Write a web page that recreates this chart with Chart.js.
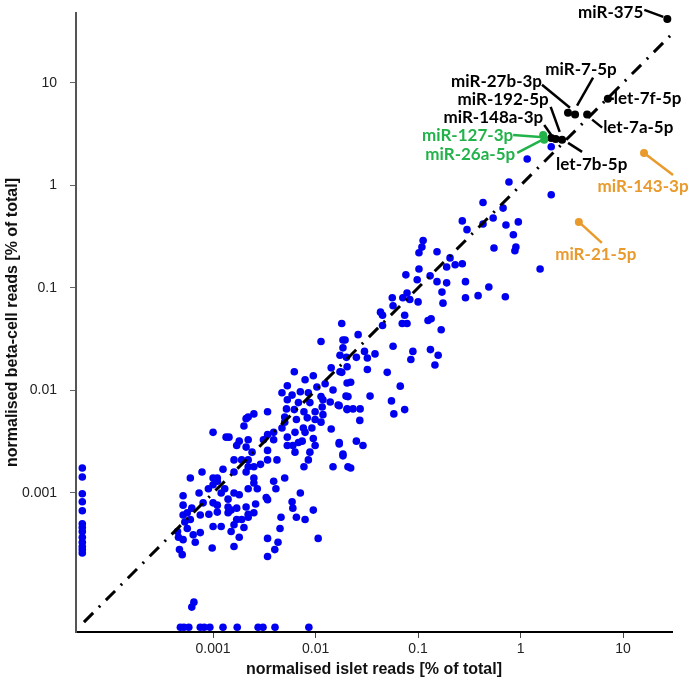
<!DOCTYPE html>
<html>
<head>
<meta charset="utf-8">
<script src="https://cdn.jsdelivr.net/npm/chart.js@4"></script>
<style>
  html, body { margin: 0; padding: 0; background: #fff; }
  #wrap { width: 694px; height: 683px; }
</style>
</head>
<body>
<div id="wrap"><canvas id="scatter"></canvas></div>
<script>
// ─────────────── DATA ───────────────
const tickValues = [0.001, 0.01, 0.1, 1, 10];
const tickLabels = ['0.001', '0.01', '0.1', '1', '10'];

// islet reads / beta-cell reads, % of total
const blueIslet = [
  0.0113, 0.0185, 0.0173, 0.0142, 0.0203, 0.0173, 0.0062, 0.0095, 0.0079, 0.0203,
  0.0124, 0.0053, 0.0103, 0.0148, 0.0207, 0.0113, 0.0085, 0.0071, 0.0059, 0.0053,
  0.0047, 0.0139, 0.0118, 0.0068, 0.0088, 0.0166, 0.0203, 0.0116, 0.0052, 0.0062,
  0.0077, 0.0099, 0.0034, 0.0118, 0.0050, 0.0083, 0.0099, 0.0065, 0.0113, 0.0050,
  0.0025, 0.0022, 0.0021, 0.0020, 0.0047, 0.0076, 0.0092, 0.0142, 0.0039, 0.0063,
  0.0079, 0.0010, 0.00143, 0.00134, 0.0034, 0.0053, 0.0095, 0.0074, 0.0039, 0.0031,
  0.0170, 0.0018, 0.0022, 0.0017, 0.0099, 0.0053, 0.0060, 0.0068, 0.0021, 0.0024,
  0.0022, 0.0019, 0.0016, 0.0034, 0.0063, 0.0088, 0.0185, 0.0034, 0.0042, 0.0085,
  0.0148, 0.0207, 0.0029, 0.0025, 0.0022, 0.0077, 0.00078, 0.00125, 0.0011, 0.0016,
  0.0021, 0.0006, 0.0010, 0.0011, 0.0010, 0.0009, 0.0013, 0.0012, 0.0016, 0.0025,
  0.0022, 0.0027, 0.0025, 0.0039, 0.0050, 0.0041, 0.0071, 0.0033, 0.0034, 0.00073,
  0.00051, 0.0008, 0.0010, 0.0014, 0.0018, 0.0014, 0.0011, 0.0021, 0.0017, 0.0026,
  0.00051, 0.00062, 0.00056, 0.00051, 0.00075, 0.00091, 0.0011, 0.0015, 0.0022, 0.0025,
  0.0059, 0.0060, 0.0065, 0.0095, 0.0046, 0.0079, 0.0014, 0.0022, 0.0019, 0.0017,
  0.0006, 0.00053, 0.0010, 0.0012, 0.0016, 0.0020, 0.00045, 0.00056, 0.0045, 0.00064,
  0.00075, 0.0015, 0.00046, 0.00051, 0.00067, 0.0018, 0.0034, 0.0043, 0.0106, 0.00047,
  0.0005, 0.00098, 0.0016, 0.0040, 0.0034, 0.00062, 0.00065,
  1.99, 1.16, 0.77, 1.99, 0.43, 0.675, 0.27, 0.54, 0.95, 0.30,
  0.43, 0.72, 0.85, 0.55, 0.90, 0.88, 1.55, 0.112, 0.109, 0.102,
  0.153, 0.205, 0.19, 0.23, 0.27, 0.102, 0.076, 0.098, 0.131, 0.153,
  0.19, 0.29, 0.49, 0.385, 0.29, 0.71, 0.171, 0.175, 0.078, 0.071,
  0.083, 0.1, 0.056, 0.057, 0.043, 0.045, 0.074, 0.134, 0.125, 0.07,
  0.078, 0.168, 0.045, 0.018, 0.026, 0.0194,
  0.0185, 0.020, 0.025, 0.030, 0.032, 0.038, 0.057, 0.089, 0.085, 0.132,
  0.157, 0.146, 0.018, 0.032, 0.05, 0.022, 0.067, 0.0198, 0.034, 0.055,
  0.017, 0.0203, 0.0232, 0.0272, 0.058, 0.074, 0.027, 0.017, 0.025, 0.029,
  0.0185, 0.022
];
const blueBeta = [
  0.030, 0.031, 0.022, 0.0166, 0.017, 0.0152, 0.0152, 0.0139, 0.0127, 0.0118,
  0.0116, 0.0111, 0.0108, 0.0101, 0.0087, 0.0087, 0.0095, 0.0097, 0.0090, 0.0081,
  0.0095, 0.0077, 0.0081, 0.0076, 0.0076, 0.0072, 0.0065, 0.0069, 0.0066, 0.0065,
  0.0062, 0.0062, 0.0062, 0.0058, 0.0055, 0.0054, 0.0052, 0.0052, 0.0049, 0.0049,
  0.0059, 0.0055, 0.0053, 0.0045, 0.0043, 0.0043, 0.0043, 0.0042, 0.0039, 0.0039,
  0.0039, 0.0039, 0.0035, 0.0035, 0.0037, 0.0035, 0.0034, 0.0032, 0.0033, 0.0033,
  0.0030, 0.0032, 0.0033, 0.0029, 0.0029, 0.0029, 0.0029, 0.0031, 0.0028, 0.0025,
  0.0021, 0.0021, 0.0021, 0.0026, 0.0025, 0.0025, 0.0024, 0.0021, 0.0021, 0.0021,
  0.0018, 0.0018, 0.0019, 0.0018, 0.0018, 0.0018, 0.0016, 0.0017, 0.0014, 0.0016,
  0.0016, 0.0014, 0.0014, 0.0013, 0.0012, 0.0011, 0.0011, 0.0010, 0.0010, 0.00125,
  0.0011, 0.0011, 0.0014, 0.0013, 0.0014, 0.0011, 0.0010, 0.0009, 0.00086, 0.0010,
  0.00094, 0.0008, 0.0008, 0.00087, 0.00096, 0.00073, 0.00076, 0.00073, 0.00071, 0.00078,
  0.00076, 0.00071, 0.00064, 0.00061, 0.00061, 0.00062, 0.00065, 0.00068, 0.00062, 0.00064,
  0.00082, 0.00071, 0.00058, 0.00068, 0.00058, 0.00055, 0.00064, 0.00058, 0.00055, 0.00055,
  0.00055, 0.00052, 0.00047, 0.00047, 0.00049, 0.00046, 0.00042, 0.00045, 0.00045, 0.00039,
  0.00041, 0.00042, 0.00037, 0.00035, 0.00033, 0.00037, 0.00036, 0.00033, 0.00036, 0.00028,
  0.00025, 0.00029, 0.0003, 0.00028, 0.00024, 0.000077, 0.000086,
  2.38, 1.81, 1.08, 0.81, 0.68, 0.60, 0.45, 0.48, 0.44, 0.37,
  0.42, 0.41, 0.33, 0.245, 0.25, 0.23, 0.153, 0.29, 0.25, 0.22,
  0.225, 0.196, 0.16, 0.168, 0.172, 0.153, 0.134, 0.12, 0.131, 0.115,
  0.112, 0.115, 0.102, 0.084, 0.08, 0.082, 0.091, 0.071, 0.089, 0.08,
  0.077, 0.073, 0.08, 0.067, 0.058, 0.054, 0.054, 0.050, 0.048, 0.045,
  0.045, 0.039, 0.043, 0.045, 0.035, 0.031,
  0.026, 0.021, 0.021, 0.024, 0.0207, 0.0227, 0.027, 0.024, 0.020, 0.025,
  0.022, 0.0177, 0.015, 0.016, 0.015, 0.012, 0.011, 0.0088, 0.0088, 0.0079,
  0.0071, 0.0066, 0.0066, 0.0066, 0.0059, 0.0065, 0.0051, 0.0031, 0.0032, 0.0029,
  0.0023, 0.00175
];

// miRNAs with zero islet reads (plotted on the left edge) and zero beta-cell reads (bottom edge)
const zeroPlotValue = 5e-5;
const noIsletBeta = [0.00175, 0.00143, 0.00098, 0.00082, 0.00067, 0.0005, 0.00046,
  0.00042, 0.00037, 0.00033, 0.0003, 0.00028, 0.00026];
const noBetaIslet = [0.00048, 0.00052, 0.00058, 0.00075, 0.00082, 0.00093, 0.00125,
  0.00172, 0.00275, 0.00307, 0.00402, 0.0086];

// labelled miRNAs
const calloutNames = ['miR-375', 'miR-7-5p', 'miR-27b-3p', 'miR-192-5p', 'miR-148a-3p', 'let-7b-5p',
  'let-7f-5p', 'let-7a-5p', 'miR-127-3p', 'miR-26a-5p', 'miR-143-3p', 'miR-21-5p'];
const calloutIslet = [27, 3.4, 2.9, 2.2, 1.99, 2.54, 7.1, 4.46, 1.66, 1.7, 16, 3.7];
const calloutBeta = [42, 4.9, 5.1, 2.84, 2.9, 2.78, 7.0, 4.9, 3.1, 2.78, 2.07, 0.44];
const calloutGroup = ['black', 'black', 'black', 'black', 'black', 'black',
  'black', 'black', 'green', 'green', 'orange', 'orange'];

const identityLine = [5.5e-5, 30];

// ─────────────── STYLE ───────────────
const groupColor = { black: '#000000', green: '#22b24a', orange: '#e99a2c' };
const blue = '#0000f0';

// text anchor [dx, dy], alignment and leader line [x1, y1, x2, y2] relative to the point
const calloutLayout = {
  'miR-375':     { text: [-24, -6], align: 'right', line: [-23, -9, -4, -2] },
  'miR-7-5p':    { text: [6, -45], align: 'center', line: [18, -37, 2, -9] },
  'miR-27b-3p':  { text: [-26, -31], align: 'right', line: [-26, -28, 2, -5] },
  'miR-192-5p':  { text: [-7, -39], align: 'right', line: [-5, -32, 4, -7] },
  'miR-148a-3p': { text: [-8, -20], align: 'right', line: [-7, -13, 0, -3] },
  'let-7b-5p':   { text: [-6, 25], align: 'left', line: [6, 3, 20, 12] },
  'let-7f-5p':   { text: [6, 0], align: 'left', line: [3, 0, 6, 0] },
  'let-7a-5p':   { text: [16, 13], align: 'left', line: [5, 5, 15, 13] },
  'miR-127-3p':  { text: [-30, 1], align: 'right', line: [-30, 0, -3, 2] },
  'miR-26a-5p':  { text: [-29, 15], align: 'right', line: [-27, 13, -2, 0] },
  'miR-143-3p':  { text: [-1, 34], align: 'center', line: [0, 0, 29, 22] },
  'miR-21-5p':   { text: [17, 33], align: 'center', line: [0, 0, 23, 21] }
};

const calloutPlugin = {
  id: 'callouts',
  afterDatasetsDraw(chart) {
    const { ctx, scales } = chart;
    ctx.save();
    calloutNames.forEach((name, i) => {
      const px = scales.x.getPixelForValue(calloutIslet[i]);
      const py = scales.y.getPixelForValue(calloutBeta[i]);
      const L = calloutLayout[name];
      const col = groupColor[calloutGroup[i]];
      ctx.strokeStyle = col;
      ctx.lineWidth = 2.5;
      ctx.beginPath();
      ctx.moveTo(px + L.line[0], py + L.line[1]);
      ctx.lineTo(px + L.line[2], py + L.line[3]);
      ctx.stroke();
      ctx.fillStyle = col;
      ctx.font = 'bold 17px Lato, "Open Sans", sans-serif';
      ctx.textAlign = L.align;
      ctx.textBaseline = 'middle';
      ctx.fillText(name, px + L.text[0], py + L.text[1]);
    });
    ctx.restore();
  }
};

// ─────────────── CHART ───────────────
const pts = (xs, ys) => xs.map((v, i) => ({ x: v, y: ys[i] }));

const datasets = [
  {
    label: 'labelled',
    data: pts(calloutIslet, calloutBeta),
    backgroundColor: calloutGroup.map(g => groupColor[g]),
    pointRadius: 4, borderWidth: 0, order: 0
  },
  {
    label: 'x = y',
    type: 'line',
    data: pts(identityLine, identityLine),
    borderColor: '#000', borderWidth: 3, borderDash: [13, 8, 2, 8],
    pointRadius: 0, fill: false, order: 1
  },
  {
    label: 'miRNAs',
    data: pts(blueIslet, blueBeta),
    backgroundColor: blue, pointRadius: 3.8, borderWidth: 0, order: 2
  },
  {
    label: 'no islet reads',
    data: noIsletBeta.map(v => ({ x: zeroPlotValue * 1.06, y: v })),
    backgroundColor: blue, pointRadius: 3.8, borderWidth: 0, order: 2
  },
  {
    label: 'no beta-cell reads',
    data: noBetaIslet.map(v => ({ x: v, y: zeroPlotValue * 0.98 })),
    backgroundColor: blue, pointRadius: 3.8, borderWidth: 0, order: 2
  }
];

const axisFont = { family: '"Liberation Sans", Arial, sans-serif', size: 14 };
const titleFont = { family: '"Liberation Sans", Arial, sans-serif', size: 16, weight: 'bold' };

const fixedTicks = scale => { scale.ticks = tickValues.map(v => ({ value: v })); };
const tickText = v => tickLabels[tickValues.indexOf(v)] ?? '';

new Chart(document.getElementById('scatter'), {
  type: 'scatter',
  data: { datasets },
  options: {
    responsive: true,
    maintainAspectRatio: false,
    animation: false,
    layout: { padding: { top: 13, right: 22, left: 0, bottom: 0 } },
    plugins: { legend: { display: false }, tooltip: { enabled: false } },
    scales: {
      x: {
        type: 'logarithmic',
        min: 4.6e-5, max: 30,
        afterBuildTicks: fixedTicks,
        afterFit: s => { s.height = 51; s.paddingLeft = 0; s.paddingRight = 0; },
        ticks: { callback: tickText, autoSkip: false, maxRotation: 0, color: '#222', font: axisFont, padding: 3 },
        grid: { drawOnChartArea: false, tickLength: 6, color: '#444' },
        border: { color: '#000', width: 2 },
        title: { display: true, text: 'normalised islet reads [% of total]', color: '#111', font: titleFont, padding: { top: 0, bottom: 4 } }
      },
      y: {
        type: 'logarithmic',
        min: 4.4e-5, max: 48,
        afterBuildTicks: fixedTicks,
        afterFit: s => { s.width = 76; s.paddingTop = 0; s.paddingBottom = 0; },
        ticks: { callback: tickText, autoSkip: false, color: '#222', font: axisFont, padding: 13 },
        grid: { drawOnChartArea: false, tickLength: 6, color: '#666' },
        border: { color: '#555', width: 2 },
        title: { display: true, text: 'normalised beta-cell reads [% of total]', color: '#111', font: titleFont, padding: { top: 3, bottom: 0 } }
      }
    }
  },
  plugins: [calloutPlugin]
});
</script>
</body>
</html>
